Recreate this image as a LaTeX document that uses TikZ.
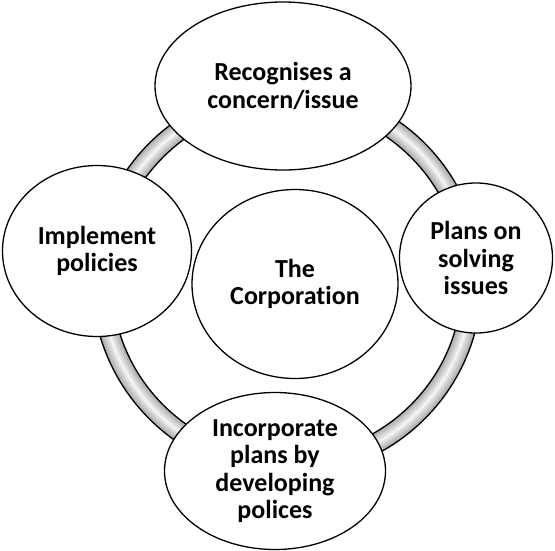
\documentclass[tikz,border=0pt]{standalone}
\usepackage{fontspec}
\setmainfont{Carlito}[Ligatures=NoCommon]
\usetikzlibrary{shapes.geometric}
\tikzset{stage/.style={ellipse, draw, fill=white, line width=1.3pt, inner sep=0pt, align=center,
  font=\bfseries\fontsize{26}{27.5}\selectfont}}
\begin{document}
\begin{tikzpicture}[x=1pt,y=-1pt]
\useasboundingbox (0,0) rectangle (555,550);
\coordinate (hub) at (287,281);
\draw[line width=21pt] (hub) circle[radius=185pt];
\foreach \w/\c in {18/58,14/46,10/34,6/22,2/8}
  \draw[line width=\w pt, color=gray!\c] (hub) circle[radius=185pt];
\node[stage, minimum width=256, minimum height=168] (recog) at (283,86) {Recognises a\\concern/issue};
\node[stage, minimum width=153, minimum height=150] (plans) at (476,258) {Plans on\\solving\\issues};
\node[stage, minimum width=221, minimum height=157] (incorp) at (275,471) {Incorporate\\plans by\\developing\\polices};
\node[stage, minimum width=189, minimum height=171] (impl) at (97,251) {Implement\\policies};
\node[stage, minimum width=206, minimum height=189] (corp) at (295,284) {The\\Corporation};
\end{tikzpicture}
\end{document}
